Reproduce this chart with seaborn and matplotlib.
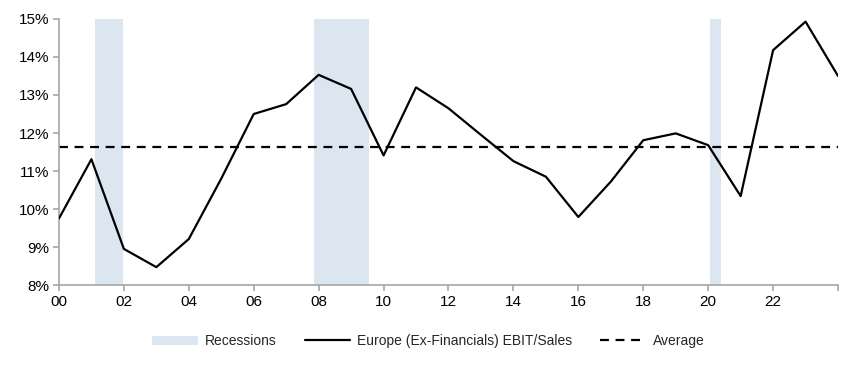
import numpy as np
import pandas as pd
import matplotlib
matplotlib.use("Agg")
import matplotlib.pyplot as plt
import seaborn as sns
from matplotlib.patches import Patch
from matplotlib.lines import Line2D

years = list(range(2000, 2025))
ebit_sales = [9.75, 11.31, 8.95, 8.47, 9.21, 10.80, 12.50, 12.76, 13.53, 13.16,
              11.41, 13.20, 12.65, 11.95, 11.26, 10.85, 9.79, 10.72, 11.81, 11.99,
              11.68, 10.34, 14.18, 14.93, 13.50]
recession_start = [2001.12, 2007.86, 2020.06]
recession_end = [2001.97, 2009.55, 2020.40]
tick_years = list(range(2000, 2025, 2))
tick_labels = ["00", "02", "04", "06", "08", "10", "12", "14", "16", "18", "20", "22", ""]

df = pd.DataFrame({"year": years, "value": ebit_sales})
average = df["value"].mean()

sns.set_style("white")
plt.rcParams["font.family"] = ["Liberation Sans Narrow", "Liberation Sans", "DejaVu Sans"]

fig = plt.figure(figsize=(8.52, 3.68), dpi=100)
ax = fig.add_axes([0.0692, 0.2255, 0.9144, 0.7229])

# recession shading
for s, e in zip(recession_start, recession_end):
    ax.axvspan(s, e, color="#dce6f1", lw=0, zorder=0)

sns.lineplot(data=df, x="year", y="value", color="black", lw=1.6, ax=ax, zorder=3)
ax.axhline(average, color="black", lw=1.6, ls=(0, (4, 3)), zorder=2)

ax.set_xlim(2000, 2024)
ax.set_ylim(8, 15)
ax.set_xticks(tick_years)
ax.set_xticklabels(tick_labels)
ax.set_yticks(range(8, 16))
ax.set_yticklabels([f"{v}%" for v in range(8, 16)])
ax.set_xlabel("")
ax.set_ylabel("")

for side in ["top", "right"]:
    ax.spines[side].set_visible(False)
for side in ["left", "bottom"]:
    ax.spines[side].set_color("#a6a6a6")
    ax.spines[side].set_linewidth(1.2)
ax.tick_params(axis="both", which="major", direction="out", length=4, width=1.2,
               color="#a6a6a6", labelsize=11, labelcolor="black", pad=3)
ax.tick_params(axis="x", bottom=True)
ax.tick_params(axis="y", left=True)

handles = [
    Patch(facecolor="#dce6f1", edgecolor="none", label="Recessions"),
    Line2D([0], [0], color="black", lw=1.6, label="Europe (Ex-Financials) EBIT/Sales"),
    Line2D([0], [0], color="black", lw=1.6, ls=(0, (4, 3)), label="Average"),
]
fig.legend(handles=handles, loc="center", bbox_to_anchor=(0.503, 0.073), ncol=3,
           frameon=False, fontsize=10, handlelength=3.3, handleheight=0.6,
           columnspacing=2.0, handletextpad=0.5)

fig.savefig("out.png", dpi=100)
